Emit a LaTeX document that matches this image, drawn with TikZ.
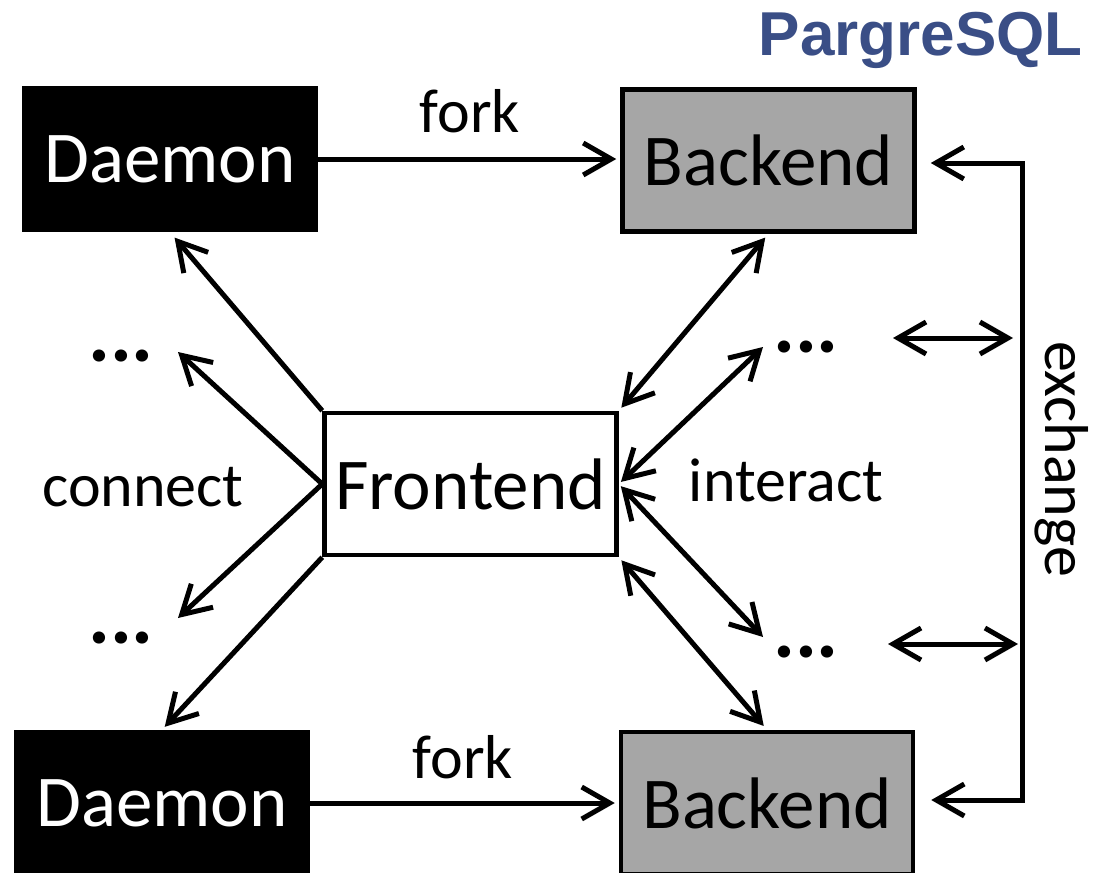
\documentclass[tikz,border=0pt]{standalone}
\usepackage{fontspec}
\setmainfont{Carlito}
\newfontfamily\titlefont{Liberation Sans}
\usetikzlibrary{arrows.meta}
\definecolor{titleblue}{HTML}{3A4E86}
\definecolor{backgray}{HTML}{A6A6A6}
\begin{document}
\begin{tikzpicture}[x=1pt,y=-1pt,
  box/.style={draw=black, line width=4.5pt, minimum width=292pt, minimum height=142pt,
    inner sep=0pt, anchor=center, font=\fontsize{73}{80}\selectfont},
  daemonbox/.style={box, fill=black, text=white},
  backendbox/.style={box, fill=backgray},
  frontbox/.style={box, fill=white},
  lbl/.style={inner sep=0pt, font=\fontsize{62}{70}\selectfont},
  dotsl/.style={inner sep=0pt, font=\bfseries\fontsize{82}{82}\selectfont},
  barb/.tip={Straight Barb[length=28pt,width=32pt]},
  conn/.style={line width=5pt, -barb},
  dconn/.style={line width=5pt, barb-barb},
]
\useasboundingbox (0,0) rectangle (1101,873);

% process boxes
\node[daemonbox]  (daemonT)  at (170,159)   {Daemon};
\node[daemonbox]  (daemonB)  at (162,803)   {Daemon};
\node[backendbox] (backendT) at (768.5,160.5) {Backend};
\node[backendbox] (backendB) at (767,803)   {Backend};
\node[frontbox]   (frontend) at (470.5,484) {Frontend};

% title
\node[inner sep=0pt, anchor=base east, text=titleblue,
  font=\titlefont\bfseries\fontsize{62}{70}\selectfont] (title) at (1083,55) {PargreSQL};

% labels and ellipses
\node[lbl] (forkT) at (470,111) {fork};
\node[lbl] (forkB) at (463,757) {fork};
\node[lbl] (connect) at (143,487) {connect};
\node[lbl] (interact) at (786,480) {interact};
\node[lbl, rotate=-90] (exchange) at (1062,459) {exchange};
\node[dotsl] (dotsLU) at (121,356) {...};
\node[dotsl] (dotsLL) at (121,638) {...};
\node[dotsl] (dotsRU) at (806,347) {...};
\node[dotsl] (dotsRL) at (806,652) {...};

% free arrow ends
\coordinate (tipLU) at (178,352);
\coordinate (tipLL) at (178,618);
\coordinate (tipRU) at (763,347);
\coordinate (tipRL) at (763,637);
\coordinate (busT) at (1022,163);
\coordinate (busB) at (1022,800);
\coordinate (xU1) at (893,338);
\coordinate (xU2) at (1013,338);
\coordinate (xL1) at (888,644);
\coordinate (xL2) at (1018,644);

% fork
\draw[conn, shorten >=4pt] (daemonT.east) -- (daemonT.east -| backendT.west);
\draw[conn, shorten >=4pt] (daemonB.east) -- (daemonB.east -| backendB.west);

% connect
\draw[conn, shorten >=7pt] (frontend.north west) -- (daemonT.south);
\draw[conn] (frontend.west) -- (tipLU);
\draw[conn] (frontend.west) -- (tipLL);
\draw[conn, shorten >=4pt] (frontend.south west) -- (daemonB.north);

% interact
\draw[dconn, shorten <=4pt, shorten >=5pt] (frontend.north east) -- (backendT.south);
\draw[dconn, shorten <=3pt] (frontend.east) -- (tipRU);
\draw[dconn, shorten <=3pt] (frontend.east) -- (tipRL);
\draw[dconn, shorten <=4pt, shorten >=5pt] (frontend.south east) -- (backendB.north);

% exchange
\draw[dconn, shorten <=14pt, shorten >=16pt, line join=miter]
  (busT -| backendT.east) -- (busT) -- (busB) -- (busB -| backendB.east);
\draw[dconn] (xU1) -- (xU2);
\draw[dconn] (xL1) -- (xL2);
\end{tikzpicture}
\end{document}
